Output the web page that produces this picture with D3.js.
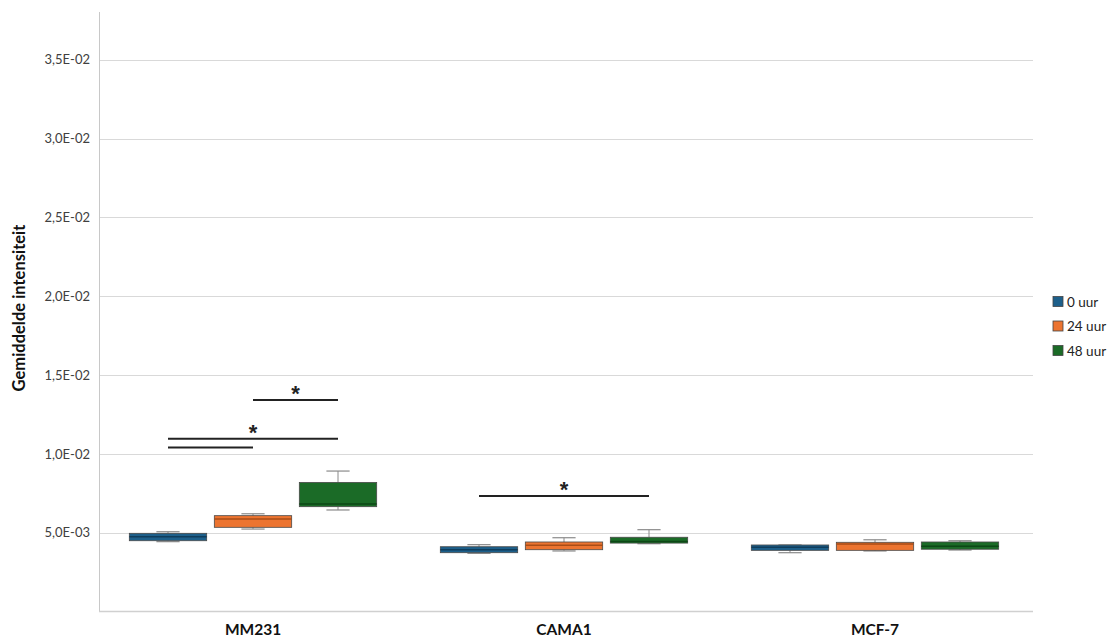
<!DOCTYPE html>
<html>
<head>
<meta charset="utf-8">
<script src="https://cdn.jsdelivr.net/npm/d3@7"></script>
<style>
  html, body { margin: 0; padding: 0; background: #fff; }
  svg { display: block; font-family: Lato, "Open Sans", "Liberation Sans", sans-serif; }
</style>
</head>
<body>
<svg id="chart" width="1112" height="641"></svg>
<script>
// Cell lines and time points
const categories = ["MM231", "CAMA1", "MCF-7"];
const series = ["0 uur", "24 uur", "48 uur"];

// Box statistics per series, one entry per cell line
const minVals    = [[0.00443, 0.00369, 0.00373], [0.00523, 0.00384, 0.00384], [0.00644, 0.00430, 0.00390]];
const q1Vals     = [[0.00449, 0.00373, 0.00388], [0.00534, 0.00392, 0.00388], [0.00665, 0.00434, 0.00395]];
const medianVals = [[0.00474, 0.00392, 0.00407], [0.00587, 0.00420, 0.00428], [0.00682, 0.00444, 0.00414]];
const q3Vals     = [[0.00496, 0.00411, 0.00422], [0.00608, 0.00441, 0.00439], [0.00819, 0.00471, 0.00441]];
const maxVals    = [[0.00506, 0.00424, 0.00422], [0.00620, 0.00468, 0.00455], [0.00891, 0.00519, 0.00449]];

// Y axis ticks
const yTicks = [0.005, 0.010, 0.015, 0.020, 0.025, 0.030, 0.035];

// Significance brackets: cell line, series from/to, height in data units
const sigGroup = ["MM231", "MM231", "MM231", "CAMA1"];
const sigFrom  = ["24 uur", "0 uur", "0 uur", "0 uur"];
const sigTo    = ["48 uur", "48 uur", "24 uur", "48 uur"];
const sigLevel = [0.01341, 0.01096, 0.01041, 0.00733];
const sigStar  = [true, true, false, true];

const fills   = ["#1d5f8a", "#ec7430", "#1b6b27"];
const medians = ["#0f3d5c", "#a84d17", "#0d4716"];

const svg = d3.select("#chart");

const plot = { left: 99, right: 1033, top: 12, bottom: 611.5 };

const y = d3.scaleLinear().domain([0, 0.038]).range([plot.bottom, plot.top + 0.5]);

const x0 = d3.scaleBand().domain(categories).range([97.5, 1030.5]).paddingInner(0).paddingOuter(0);
const x1 = d3.scaleBand().domain(series).range([-127.5, 127.5]).paddingInner(0.09).paddingOuter(0.045);

// "5,0E-03" style tick labels
function sciComma(v) {
  const s = v.toExponential(1);            // e.g. 5.0e-3
  let [m, e] = s.split("e");
  const sign = e[0] === "-" ? "-" : "+";
  let digits = e.replace(/[-+]/, "");
  if (digits.length < 2) digits = "0" + digits;
  return m.replace(".", ",") + "E" + sign + digits;
}

// Gridlines
svg.append("g")
  .selectAll("line")
  .data(yTicks)
  .join("line")
  .attr("x1", plot.left)
  .attr("x2", plot.right)
  .attr("y1", d => Math.round(y(d)) + 0.5)
  .attr("y2", d => Math.round(y(d)) + 0.5)
  .attr("stroke", "#d9d9d9")
  .attr("stroke-width", 1);

// Y axis
const yAxis = d3.axisLeft(y).tickValues(yTicks).tickFormat(sciComma).tickSize(0).tickPadding(9);
const gy = svg.append("g").attr("transform", `translate(${plot.left},0)`).call(yAxis);
gy.select(".domain").remove();
gy.selectAll("text")
  .attr("font-size", 13)
  .attr("fill", "#404040")
  .attr("font-family", "Lato, 'Open Sans', sans-serif");

// Axis frame lines
svg.append("line")
  .attr("x1", plot.left + 0.5).attr("x2", plot.left + 0.5)
  .attr("y1", plot.top).attr("y2", plot.bottom)
  .attr("stroke", "#c8c8c8");
svg.append("line")
  .attr("x1", plot.left).attr("x2", plot.right)
  .attr("y1", plot.bottom).attr("y2", plot.bottom)
  .attr("stroke", "#d0d0d0").attr("stroke-width", 1.5);

// X axis category labels
const xAxis = d3.axisBottom(x0).tickSize(0).tickPadding(12);
const gx = svg.append("g").attr("transform", `translate(0,${plot.bottom})`).call(xAxis);
gx.select(".domain").remove();
gx.selectAll("text")
  .attr("font-size", 15.5)
  .attr("font-weight", "bold")
  .attr("fill", "#111")
  .attr("font-family", "Lato, 'Open Sans', sans-serif");

// Y axis title
svg.append("text")
  .attr("transform", `translate(25,308) rotate(-90)`)
  .attr("text-anchor", "middle")
  .attr("font-size", 16.5)
  .attr("font-weight", "bold")
  .attr("fill", "#111")
  .text("Gemiddelde intensiteit");

// Box plots
const boxes = [];
series.forEach((s, si) => {
  categories.forEach((c, ci) => {
    boxes.push({
      cat: c, ser: s, si,
      min: minVals[si][ci], q1: q1Vals[si][ci], med: medianVals[si][ci],
      q3: q3Vals[si][ci], max: maxVals[si][ci]
    });
  });
});

const bw = x1.bandwidth();
const capW = bw * 0.3;

const gBox = svg.append("g")
  .selectAll("g")
  .data(boxes)
  .join("g")
  .attr("transform", d => `translate(${x0(d.cat) + x0.bandwidth() / 2 + x1(d.ser)},0)`);

// Whiskers
gBox.append("line")
  .attr("x1", bw / 2).attr("x2", bw / 2)
  .attr("y1", d => y(d.max)).attr("y2", d => y(d.q3))
  .attr("stroke", "#8a8a8a").attr("stroke-width", 1);
gBox.append("line")
  .attr("x1", bw / 2).attr("x2", bw / 2)
  .attr("y1", d => y(d.q1)).attr("y2", d => y(d.min))
  .attr("stroke", "#8a8a8a").attr("stroke-width", 1);
gBox.append("line")
  .attr("x1", bw / 2 - capW / 2).attr("x2", bw / 2 + capW / 2)
  .attr("y1", d => y(d.max)).attr("y2", d => y(d.max))
  .attr("stroke", "#8a8a8a").attr("stroke-width", 1.2);
gBox.append("line")
  .attr("x1", bw / 2 - capW / 2).attr("x2", bw / 2 + capW / 2)
  .attr("y1", d => y(d.min)).attr("y2", d => y(d.min))
  .attr("stroke", "#8a8a8a").attr("stroke-width", 1.2);

// Boxes
gBox.append("rect")
  .attr("x", 0)
  .attr("width", bw)
  .attr("y", d => y(d.q3))
  .attr("height", d => y(d.q1) - y(d.q3))
  .attr("fill", d => fills[d.si])
  .attr("stroke", "#4a4a4a")
  .attr("stroke-width", 0.8);

// Medians
gBox.append("line")
  .attr("x1", 0).attr("x2", bw)
  .attr("y1", d => y(d.med)).attr("y2", d => y(d.med))
  .attr("stroke", d => medians[d.si])
  .attr("stroke-width", 1.5);

// Significance brackets
const sigs = sigGroup.map((g, i) => ({ g, from: sigFrom[i], to: sigTo[i], level: sigLevel[i], star: sigStar[i] }));
const cx = (g, s) => x0(g) + x0.bandwidth() / 2 + x1(s) + bw / 2;

const gSig = svg.append("g").selectAll("g").data(sigs).join("g");
gSig.append("line")
  .attr("x1", d => cx(d.g, d.from))
  .attr("x2", d => cx(d.g, d.to))
  .attr("y1", d => y(d.level))
  .attr("y2", d => y(d.level))
  .attr("stroke", "#222")
  .attr("stroke-width", 2);
gSig.filter(d => d.star).append("text")
  .attr("x", d => (cx(d.g, d.from) + cx(d.g, d.to)) / 2)
  .attr("y", d => y(d.level) + 1)
  .attr("text-anchor", "middle")
  .attr("font-family", "'Liberation Sans', Arial, sans-serif")
  .attr("font-size", 22)
  .attr("font-weight", "bold")
  .attr("fill", "#222")
  .text("*");

// Legend
const legend = svg.append("g").attr("transform", "translate(1053,302)");
const li = legend.selectAll("g").data(series).join("g")
  .attr("transform", (d, i) => `translate(0,${i * 24.5})`);
li.append("rect")
  .attr("x", 0).attr("y", -5.5)
  .attr("width", 10).attr("height", 10)
  .attr("fill", (d, i) => fills[i])
  .attr("stroke", "#444").attr("stroke-width", 0.8);
li.append("text")
  .attr("x", 14).attr("y", 0)
  .attr("dy", "0.35em")
  .attr("font-size", 13.5)
  .attr("fill", "#222")
  .text(d => d);
</script>
</body>
</html>
